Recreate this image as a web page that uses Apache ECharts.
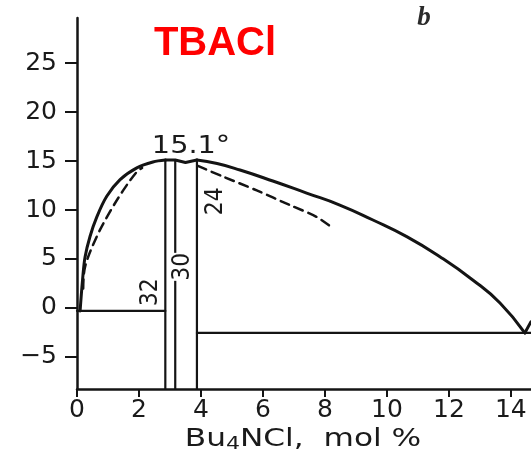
<!DOCTYPE html>
<html><head><meta charset="utf-8">
<script src="https://cdn.jsdelivr.net/npm/echarts@6/dist/echarts.min.js"></script>
<style>html,body{margin:0;padding:0;background:#fff}#c{width:531px;height:458px}</style>
</head><body><div id="c"></div>
<script>
const xTicks = [0, 2, 4, 6, 8, 10, 12, 14];
const yTicks = [-5, 0, 5, 10, 15, 20, 25];
const solidLeft = [[0.10,-0.3],[0.18,2.9],[0.26,5.2],[0.42,7.3],[0.64,9.3],[0.96,11.4],[1.39,13.1],[1.93,14.3],[2.45,14.9],[2.85,15.1]];
const solidTop = [[2.85,15.1],[3.17,15.1],[3.5,14.85],[3.87,15.1]];
const solidRight = [[3.87,15.1],[4.52,14.74],[5.26,14.08],[6.32,12.96],[7.41,11.73],[8.48,10.51],[9.55,8.98],[10.64,7.28],[11.71,5.23],[12.77,2.86],[13.65,0.51],[14.45,-2.55]];
const solidTail = [[14.45,-2.55],[14.65,-1.4]];
const dashLeft = [[0.2,2.0],[0.26,4.2],[0.64,7.3],[1.06,9.8],[1.49,12.0],[1.93,13.9],[2.1,14.3]];
const dashRight = [[3.9,14.5],[4.72,13.4],[5.8,12.0],[6.87,10.5],[7.73,9.3],[8.27,8.1]];
const eutecticLeft = [[0,-0.3],[2.85,-0.3]];
const eutecticRight = [[3.87,-2.55],[14.65,-2.55]];
const line32 = [[2.85,-8.27],[2.85,15.1]];
const line30 = [[3.17,-8.27],[3.17,15.1]];
const line24 = [[3.87,-8.27],[3.87,15.1]];
const peakText = '15.1°';
const hydrateLabels = ['32', '30', '24'];

const chart = echarts.init(document.getElementById('c'), null, {renderer: 'canvas'});
const ink = '#141414';
const font = 'DejaVu Sans';
function ln(data, w, dash, smooth, z) {
  return {type:'line', data: data, symbol:'none', smooth: smooth || false, silent:true, animation:false, z: z || 2,
    lineStyle:{color: ink, width: w, type: dash ? [9,6] : 'solid', cap:'round', join:'round'}};
}
chart.setOption({
  animation:false,
  grid:{left:77, top:18, right:0, bottom:69, containLabel:false},
  xAxis:{type:'value', min:0, max:14.65,
    axisLine:{onZero:false, lineStyle:{color:ink, width:2.5}},
    axisTick:{show:true, customValues:xTicks, length:8, lineStyle:{color:ink, width:2}},
    axisLabel:{customValues:xTicks, fontSize:25, fontFamily:font, color:'#1a1a1a', margin:9},
    splitLine:{show:false}},
  yAxis:{type:'value', min:-8.27, max:29.6,
    axisLine:{show:true, onZero:false, lineStyle:{color:ink, width:2.5}},
    axisTick:{show:true, customValues:yTicks, length:12, lineStyle:{color:ink, width:2}},
    axisLabel:{customValues:yTicks, fontSize:25, fontFamily:font, color:'#1a1a1a', margin:20,
      formatter: v => String(v).replace('-', '\u2212')},
    splitLine:{show:false}},
  series:[
    ln(eutecticLeft, 2.2), ln(eutecticRight, 2.2),
    ln(line32, 2.2), ln(line30, 2.2), ln(line24, 2.2, false, false, 20),
    ln(solidLeft, 3, false, 0.35), ln(solidTop, 3), ln(solidRight, 3, false, 0.5), ln(solidTail, 3),
    ln(dashLeft, 2.5, true, 0.35), ln(dashRight, 2.5, true, 0.3)
  ]
});
const P = (x, y) => chart.convertToPixel({gridIndex:0}, [x, y]);
const pk = P(3.68, 16.5), a32 = P(2.39, 1.6), a30 = P(3.42, 4.2), a24 = P(4.48, 10.9);
function rot(t, p, bg) {
  return {type:'text', x:p[0], y:p[1], rotation:Math.PI/2, scaleY:1.12, z:10,
    style:{text:t, fontSize:22, fontFamily:font, fill:'#1a1a1a', align:'center', verticalAlign:'middle',
      backgroundColor: bg ? '#fff' : 'transparent', padding: 0}};
}
chart.setOption({graphic:[
  {type:'text', x:215, y:44, z:10, style:{text:'TBACl', fontSize:40, fontWeight:'bold', fontFamily:'Liberation Sans', fill:'#ff0000', align:'center', verticalAlign:'middle'}},
  {type:'text', x:424, y:18, z:10, style:{text:'b', fontSize:27, fontWeight:'bold', fontStyle:'italic', fontFamily:'Liberation Serif', fill:'#2a2a2a', align:'center', verticalAlign:'middle'}},
  {type:'text', x:pk[0], y:pk[1], scaleX:1.15, z:10, style:{text:peakText, fontSize:25, fontFamily:font, fill:'#1a1a1a', align:'center', verticalAlign:'middle'}},
  rot(hydrateLabels[0], a32, false), rot(hydrateLabels[1], a30, true), rot(hydrateLabels[2], a24, false),
  {type:'text', x:303, y:440, scaleX:1.3, z:10, style:{text:'Bu{s|4}NCl,  mol %', fontSize:24, fontFamily:font, fill:'#1a1a1a', align:'center', verticalAlign:'middle',
    rich:{s:{fontSize:17, fontFamily:font, fill:'#1a1a1a', verticalAlign:'bottom', padding:[10,0,0,0]}}}}
]});
</script>
</body></html>
